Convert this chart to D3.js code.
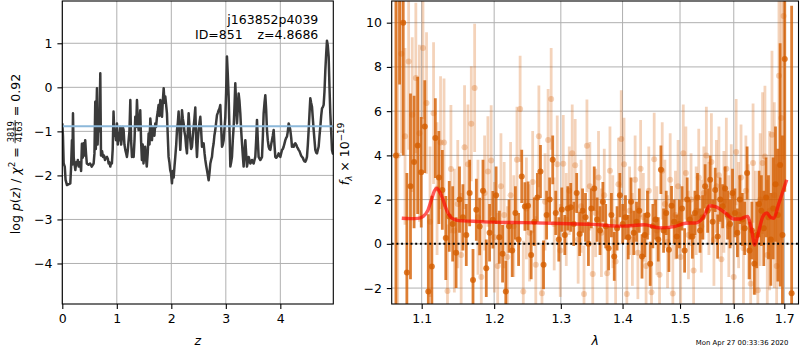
<!DOCTYPE html>
<html>
<head>
<meta charset="utf-8">
<script src="https://cdn.jsdelivr.net/npm/d3@7"></script>
<style>
  body { margin: 0; background: #fff; }
  svg { display: block; }
  svg text { font-family: "DejaVu Sans", sans-serif; fill: #000; }
</style>
</head>
<body>
<svg id="fig" width="800" height="350"></svg>
<script>
// ---------- redshift probability curve: log p(z) / chi2 ----------
const zGrid = [
  0.000,0.012,0.025,0.045,0.060,0.086,0.120,0.147,0.160,0.177,
  0.185,0.196,0.210,0.239,0.255,0.269,0.285,0.300,0.315,0.330,
  0.345,0.360,0.375,0.390,0.405,0.420,0.435,0.450,0.480,0.510,
  0.540,0.575,0.590,0.605,0.615,0.625,0.636,0.648,0.667,0.680,
  0.697,0.710,0.730,0.746,0.765,0.783,0.800,0.820,0.835,0.850,
  0.865,0.880,0.895,0.910,0.925,0.940,0.955,0.970,0.985,1.003,
  1.018,1.034,1.050,1.064,1.080,1.095,1.110,1.125,1.140,1.156,
  1.172,1.186,1.200,1.217,1.232,1.248,1.262,1.278,1.294,1.309,
  1.325,1.339,1.355,1.370,1.385,1.400,1.415,1.430,1.445,1.460,
  1.475,1.490,1.505,1.520,1.535,1.550,1.567,1.584,1.600,1.615,
  1.630,1.645,1.660,1.676,1.690,1.706,1.720,1.737,1.752,1.767,
  1.782,1.798,1.814,1.829,1.845,1.860,1.875,1.890,1.905,1.920,
  1.935,1.950,1.965,1.980,1.995,2.012,2.027,2.043,2.058,2.073,
  2.090,2.104,2.120,2.134,2.150,2.165,2.180,2.196,2.210,2.226,
  2.240,2.257,2.272,2.287,2.300,2.318,2.333,2.348,2.363,2.379,
  2.395,2.410,2.425,2.440,2.456,2.471,2.486,2.501,2.517,2.532,
  2.548,2.563,2.578,2.593,2.610,2.624,2.640,2.654,2.670,2.685,
  2.700,2.716,2.730,2.746,2.760,2.777,2.790,2.807,2.822,2.838,
  2.853,2.869,2.884,2.899,2.915,2.930,2.945,2.960,2.975,2.991,
  3.006,3.021,3.036,3.052,3.068,3.083,3.098,3.113,3.128,3.144,
  3.160,3.174,3.190,3.205,3.220,3.235,3.250,3.266,3.280,3.297,
  3.312,3.327,3.342,3.358,3.373,3.388,3.403,3.419,3.434,3.450,
  3.465,3.480,3.495,3.511,3.526,3.541,3.557,3.572,3.587,3.602,
  3.618,3.633,3.648,3.664,3.680,3.694,3.710,3.725,3.740,3.755,
  3.770,3.786,3.800,3.817,3.832,3.847,3.862,3.878,3.893,3.908,
  3.924,3.939,3.954,3.969,3.985,4.000,4.015,4.031,4.046,4.061,
  4.076,4.092,4.107,4.122,4.138,4.153,4.168,4.183,4.200,4.214,
  4.230,4.245,4.260,4.275,4.290,4.306,4.320,4.336,4.352,4.367,
  4.382,4.398,4.413,4.428,4.443,4.459,4.474,4.489,4.505,4.520,
  4.535,4.550,4.565,4.581,4.596,4.612,4.627,4.642,4.657,4.673,
  4.688,4.703,4.719,4.734,4.750,4.765,4.780,4.795,4.810,4.826,
  4.841,4.856,4.871,4.887,4.902,4.917,4.933,4.948,4.963,4.978
];
const logPz = [
  -0.82,-1.10,-1.73,-1.80,-2.10,-2.22,-2.20,-2.18,-1.85,-1.20,
  -1.75,-0.59,-1.60,-1.88,-1.70,-1.75,-1.65,-1.80,-1.70,-1.73,
  -1.90,-1.28,-1.60,-1.27,-1.55,-1.20,-1.50,-1.73,-1.76,-1.73,
  -1.80,-1.73,-1.50,-0.33,-1.40,-0.60,-0.02,-1.30,-0.52,-1.00,
  0.32,-1.55,-1.45,-1.58,-1.55,-1.65,-1.60,-1.58,-1.62,-1.73,
  -1.70,-1.80,-1.72,-1.73,-1.40,-0.55,-1.10,-0.97,-1.20,-0.82,
  -1.30,-1.05,-1.20,-0.90,-1.30,-1.12,-0.90,-0.97,-1.30,-1.42,
  -1.50,-1.58,-1.45,-1.20,-1.00,-0.29,-1.20,-1.58,-1.45,-1.58,
  -1.20,-0.67,-0.90,-0.29,-0.75,-0.97,-0.85,-0.52,-1.20,-1.65,
  -1.30,-1.73,-1.50,-1.35,-1.60,-1.80,-1.50,-1.05,-1.30,-0.71,
  -0.95,-1.20,-0.90,-0.97,-1.10,-0.82,-0.90,-0.67,-0.55,-0.40,
  -0.65,-0.29,-0.50,-0.67,-0.30,-0.02,-0.35,-0.21,-0.40,-0.59,
  -1.10,-1.58,-1.70,-1.88,-1.95,-2.18,-1.90,-2.05,-1.80,-1.58,
  -1.30,-0.97,-0.80,-0.55,-1.00,-1.42,-1.00,-0.52,-0.70,-0.82,
  -1.00,-1.12,-1.35,-1.50,-1.10,-0.59,-0.90,-1.20,-1.40,-1.35,
  -1.10,-0.90,-0.70,-0.46,-1.20,-1.58,-1.20,-0.97,-0.80,-0.67,
  -1.00,-1.35,-1.30,-1.27,-1.50,-1.65,-1.78,-1.88,-2.00,-2.11,
  -1.95,-1.73,-1.65,-1.58,-1.40,-1.27,-1.10,-0.97,-0.80,-0.63,
  -0.58,-0.52,-0.48,-0.40,-0.90,-1.35,-1.30,-1.20,-0.95,-0.67,
  -0.10,0.70,0.30,-0.21,-1.00,-1.80,-1.70,-1.58,-1.20,-0.90,
  -0.40,0.09,-0.40,-0.82,-0.50,-0.14,-0.30,-0.59,-0.95,-1.27,
  -1.55,-1.80,-1.50,-1.20,-1.50,-1.80,-1.70,-1.58,-1.65,-1.73,
  -1.70,-1.65,-1.70,-1.73,-1.65,-1.58,-1.20,-0.74,-1.20,-1.58,
  -1.62,-1.65,-1.62,-1.58,-1.10,-0.59,-0.35,-0.18,-0.50,-0.97,
  -1.20,-1.35,-1.40,-1.42,-1.30,-1.20,-1.10,-0.97,-1.30,-1.58,
  -1.60,-1.58,-1.55,-1.50,-1.55,-1.58,-1.50,-1.42,-1.40,-1.35,
  -1.28,-1.20,-1.15,-1.12,-1.00,-0.82,-0.88,-0.97,-1.15,-1.35,
  -1.30,-1.35,-1.30,-1.27,-1.30,-1.35,-1.38,-1.42,-1.45,-1.50,
  -1.55,-1.58,-1.60,-1.65,-1.68,-1.69,-1.65,-1.58,-1.30,-0.97,
  -0.60,-0.25,-0.35,-0.44,-0.70,-0.97,-1.20,-1.42,-1.48,-1.50,
  -1.42,-1.35,-1.10,-0.90,-0.65,-0.48,-0.45,-0.40,-0.10,0.39,
  0.75,1.06,0.95,0.70,0.00,-0.59,-1.00,-1.42,-1.50,-1.52
];
const chi2Level = -0.886;
const zTicks = [0, 1, 2, 3, 4];
const pzTicks = [-4, -3, -2, -1, 0, 1];

// ---------- spectrum: first beam (dark) ----------
const darkWave = [
  1.0665,1.0712,1.0759,1.0806,1.0853,1.0900,1.0947,1.0994,1.1041,1.1088,
  1.1135,1.1182,1.1229,1.1276,1.1323,1.1370,1.1417,1.1464,1.1511,1.1558,
  1.1605,1.1652,1.1699,1.1746,1.1793,1.1840,1.1887,1.1934,1.1981,1.2028,
  1.2075,1.2122,1.2169,1.2216,1.2263,1.2310,1.2357,1.2404,1.2451,1.2498,
  1.2545,1.2592,1.2639,1.2686,1.2733,1.2780,1.2827,1.2874,1.2921,1.2968,
  1.3015,1.3062,1.3109,1.3156,1.3203,1.3250,1.3297,1.3344,1.3391,1.3438,
  1.3485,1.3532,1.3579,1.3626,1.3673,1.3720,1.3767,1.3814,1.3861,1.3908,
  1.3955,1.4002,1.4049,1.4096,1.4143,1.4190,1.4237,1.4284,1.4331,1.4378,
  1.4425,1.4472,1.4519,1.4566,1.4613,1.4660,1.4707,1.4754,1.4801,1.4848,
  1.4895,1.4942,1.4989,1.5036,1.5083,1.5130,1.5177,1.5224,1.5271,1.5318,
  1.5365,1.5412,1.5459,1.5506,1.5553,1.5600,1.5647,1.5694,1.5741,1.5788,
  1.5835,1.5882,1.5929,1.5976,1.6023,1.6070,1.6117,1.6164,1.6211,1.6258,
  1.6305,1.6352,1.6399,1.6446,1.6493,1.6540,1.6587,1.6634,1.6681,1.6728,
  1.6775,1.6822,1.6869,1.6916,1.6963,1.7010,1.7151
];
const darkFlux = [
  4.0,11.5,10.0,-1.3,2.6,3.7,4.45,3.24,5.3,-2.16,
  -1.03,4.78,3.0,2.44,0.26,1.24,0.9,-0.4,2.0,1.2,
  0.4,2.3,-1.63,1.54,0.78,2.4,-1.1,0.5,1.09,2.2,
  0.3,-0.45,-2.16,0.8,-0.3,1.4,0.2,3.05,1.69,1.72,
  -0.5,1.0,2.1,3.27,-0.95,1.3,2.0,3.8,1.4,0.2,
  1.55,0.4,1.6,1.65,0.9,2.3,0.45,1.5,1.2,0.0,
  1.6,2.5,1.1,0.6,1.9,0.8,-0.2,1.3,-0.57,0.7,
  2.2,0.9,1.2,0.3,1.9,0.5,1.0,1.5,-0.57,0.4,
  1.3,-0.9,0.8,1.1,0.2,3.35,0.6,1.4,-0.27,1.72,
  1.0,0.33,0.9,1.6,-0.3,2.0,1.1,0.33,1.4,2.1,
  0.6,1.2,2.6,1.5,2.9,1.0,2.44,0.33,2.0,1.7,
  2.5,1.3,0.9,2.3,1.4,0.5,2.0,1.1,0.7,3.2,
  -0.3,0.6,-0.9,0.4,1.8,1.5,0.7,2.1,1.2,0.2,
  1.6,2.7,1.3,3.57,0.4,8.36,-2.23
];
const darkErr = [
  8.0,4.3,6.0,4.5,4.2,3.0,3.1,2.5,2.1,3.5,
  3.2,1.8,2.1,1.8,1.9,1.6,1.7,1.6,1.5,1.5,
  1.4,1.5,1.4,1.4,1.3,1.4,1.3,1.3,1.3,1.3,
  1.2,1.3,1.4,1.2,1.2,1.2,1.2,1.2,1.1,1.1,
  1.1,1.1,1.1,1.2,1.1,1.1,1.0,1.1,1.0,1.0,
  1.0,0.9,1.0,1.1,1.0,0.9,1.0,1.0,1.1,1.0,
  0.9,1.0,1.0,1.1,0.9,1.0,1.0,1.0,1.1,1.0,
  1.0,0.9,1.0,1.0,1.1,1.0,0.9,1.0,1.0,1.0,
  1.1,1.0,1.0,0.9,1.0,1.1,1.0,1.0,1.0,0.9,
  1.0,1.0,1.1,1.0,1.0,1.0,0.9,1.0,1.0,1.1,
  1.0,1.0,1.0,1.0,1.1,1.0,1.0,1.0,1.0,1.0,
  1.0,1.1,1.1,1.1,1.1,1.1,1.1,1.2,1.2,1.2,
  1.3,1.3,1.4,1.5,1.5,1.6,1.7,1.8,1.9,2.1,
  2.3,2.6,3.0,5.5,4.5,6.0,13.0
];

// ---------- spectrum: second beam (light) ----------
const lightWave = [
  1.0688,1.0735,1.0782,1.0829,1.0876,1.0923,1.0970,1.1017,1.1064,1.1111,
  1.1158,1.1205,1.1252,1.1299,1.1346,1.1393,1.1440,1.1487,1.1534,1.1581,
  1.1628,1.1675,1.1722,1.1769,1.1816,1.1863,1.1910,1.1957,1.2004,1.2051,
  1.2098,1.2145,1.2192,1.2239,1.2286,1.2333,1.2380,1.2427,1.2474,1.2521,
  1.2568,1.2615,1.2662,1.2709,1.2756,1.2803,1.2850,1.2897,1.2944,1.2991,
  1.3038,1.3085,1.3132,1.3179,1.3226,1.3273,1.3320,1.3367,1.3414,1.3461,
  1.3508,1.3555,1.3602,1.3649,1.3696,1.3743,1.3790,1.3837,1.3884,1.3931,
  1.3978,1.4025,1.4072,1.4119,1.4166,1.4213,1.4260,1.4307,1.4354,1.4401,
  1.4448,1.4495,1.4542,1.4589,1.4636,1.4683,1.4730,1.4777,1.4824,1.4871,
  1.4918,1.4965,1.5012,1.5059,1.5106,1.5153,1.5200,1.5247,1.5294,1.5341,
  1.5388,1.5435,1.5482,1.5529,1.5576,1.5623,1.5670,1.5717,1.5764,1.5811,
  1.5858,1.5905,1.5952,1.5999,1.6046,1.6093,1.6140,1.6187,1.6234,1.6281,
  1.6328,1.6375,1.6422,1.6469,1.6516,1.6563,1.6610,1.6657,1.6704,1.6751,
  1.6798,1.6845,1.6892,1.6939,1.6986
];
const lightFlux = [
  4.0,8.6,4.86,8.25,5.84,7.5,5.0,8.85,6.37,1.0,
  5.91,2.5,4.58,4.58,-2.13,3.38,0.6,1.8,-0.5,4.37,
  3.6,5.43,7.05,1.2,-1.5,2.3,3.27,3.77,0.3,-1.0,
  2.6,1.3,-0.6,2.2,0.8,3.8,6.1,-2.16,1.6,0.5,
  2.8,-0.95,4.86,-2.23,1.9,4.7,6.55,0.9,3.6,-0.3,
  3.62,1.1,2.4,4.1,3.55,0.2,1.7,-2.27,4.43,2.6,
  -1.36,1.4,3.0,0.5,2.2,-1.33,3.3,1.0,-0.8,2.7,
  4.74,3.6,-2.27,1.5,0.2,2.9,-0.4,3.4,1.2,-1.0,
  2.4,-2.19,3.83,0.6,-1.4,3.3,1.8,0.1,2.9,-2.25,
  1.3,2.6,-0.6,4.1,3.2,0.4,2.0,-1.2,1.5,3.0,
  0.8,2.3,4.0,1.6,3.7,0.2,2.6,3.1,-0.7,1.9,
  3.4,0.8,2.2,-1.5,4.15,1.3,3.0,-0.2,2.4,1.0,
  -1.8,3.65,0.5,-2.1,2.0,3.65,3.95,-0.5,1.5,4.93,
  2.2,-1.0,7.6,5.69,10.3
];
const lightErr = [
  7.0,4.5,4.0,4.0,3.5,3.4,4.0,3.2,3.2,3.4,
  3.2,3.0,3.0,2.9,3.0,2.9,2.8,2.9,2.8,2.8,
  2.7,2.6,2.9,2.6,2.6,2.6,2.5,2.5,2.5,2.4,
  2.4,2.4,2.3,2.4,2.3,2.4,2.4,2.3,2.3,2.2,
  2.3,2.2,2.3,2.2,2.2,2.3,2.3,2.1,2.2,2.1,
  2.2,2.1,2.0,2.2,2.1,2.0,2.1,2.2,2.1,2.0,
  2.1,2.0,2.1,2.0,2.1,2.2,2.0,2.1,2.0,2.1,
  2.2,2.1,2.2,2.0,2.1,2.0,2.1,2.2,2.0,2.1,
  2.0,2.2,2.1,2.0,2.1,2.2,2.0,2.1,2.1,2.2,
  2.0,2.1,2.1,2.2,2.1,2.0,2.1,2.1,2.0,2.2,
  2.1,2.1,2.2,2.1,2.2,2.1,2.1,2.2,2.2,2.3,
  2.3,2.3,2.3,2.3,2.4,2.4,2.4,2.5,2.5,2.6,
  2.6,2.7,2.8,2.9,3.0,3.2,3.2,3.4,3.6,3.8,
  4.2,4.6,5.0,5.5,6.5
];

// ---------- best-fit model ----------
const modelWave = [
  1.074,1.085,1.095,1.102,1.108,1.113,1.117,1.120,1.124,1.128,
  1.132,1.136,1.141,1.150,1.171,1.200,1.245,1.300,1.350,1.400,
  1.437,1.464,1.490,1.510,1.530,1.545,1.554,1.565,1.575,1.586,
  1.600,1.612,1.620,1.627,1.634,1.641,1.648,1.657,1.665,1.672,
  1.678,1.690,1.705
];
const modelFlux = [
  1.16,1.14,1.15,1.24,1.50,2.00,2.40,2.52,2.35,2.05,
  1.65,1.35,1.15,1.05,1.02,0.98,0.96,0.92,0.88,0.80,
  0.86,0.72,0.78,0.93,0.95,1.30,1.72,1.68,1.55,1.35,
  1.12,1.12,1.20,1.24,0.70,-0.05,0.50,1.24,1.40,1.20,
  1.16,1.90,2.90
];
const waveTicks = [1.1, 1.2, 1.3, 1.4, 1.5, 1.6, 1.7];
const fluxTicks = [-2, 0, 2, 4, 6, 8, 10];

// ---------- layout ----------
const FS = 12.5;
const ORANGE = "#d55e00";
const GRID = "#b0b0b0";
const svg = d3.select("#fig");

const L = { x0: 62.3, x1: 333.3, y0: 1, y1: 304 };
const R = { x0: 391.7, x1: 798.5, y0: 1, y1: 304 };

const xL = d3.scaleLinear().domain([0, 4.972]).range([L.x0, L.x1]);
const yL = d3.scaleLinear().domain([-4.92, 1.96]).range([L.y1, L.y0]);
const xR = d3.scaleLog().domain([1.0611, 1.7293]).range([R.x0, R.x1]);
const yR = d3.scaleLinear().domain([-2.72, 10.98]).range([R.y1, R.y0]);

const defs = svg.append("defs");
[["clipL", L], ["clipR", R]].forEach(([id, b]) => {
  defs.append("clipPath").attr("id", id).append("rect")
    .attr("x", b.x0).attr("y", b.y0).attr("width", b.x1 - b.x0).attr("height", b.y1 - b.y0);
});

function drawGrid(xs, ys, xt, yt, b) {
  const g = svg.append("g").attr("stroke", GRID).attr("stroke-width", 1);
  g.selectAll(null).data(xt).join("line")
    .attr("x1", d => xs(d)).attr("x2", d => xs(d)).attr("y1", b.y0).attr("y2", b.y1);
  g.selectAll(null).data(yt).join("line")
    .attr("y1", d => ys(d)).attr("y2", d => ys(d)).attr("x1", b.x0).attr("x2", b.x1);
}
drawGrid(xL, yL, zTicks, pzTicks, L);
drawGrid(xR, yR, waveTicks, fluxTicks, R);

// ---------- left panel ----------
const pL = svg.append("g").attr("clip-path", "url(#clipL)");
pL.append("path")
  .datum(d3.range(zGrid.length))
  .attr("fill", "none").attr("stroke", "#3a3a3a").attr("stroke-width", 2.5)
  .attr("stroke-linejoin", "round")
  .attr("d", d3.line().x(i => xL(zGrid[i])).y(i => yL(logPz[i])));
pL.append("line")
  .attr("x1", L.x0).attr("x2", L.x1)
  .attr("y1", yL(chi2Level)).attr("y2", yL(chi2Level))
  .attr("stroke", "#8cb8da").attr("stroke-width", 2);

// ---------- right panel ----------
const pR = svg.append("g").attr("clip-path", "url(#clipR)");
function errorbars(wave, flux, err, alpha) {
  const g = pR.append("g");
  const idx = d3.range(wave.length);
  g.selectAll(null).data(idx).join("line")
    .attr("x1", i => xR(wave[i])).attr("x2", i => xR(wave[i]))
    .attr("y1", i => yR(flux[i] - err[i])).attr("y2", i => yR(flux[i] + err[i]))
    .attr("stroke", ORANGE).attr("stroke-width", 2.8).attr("stroke-opacity", alpha);
  g.selectAll(null).data(idx).join("circle")
    .attr("cx", i => xR(wave[i])).attr("cy", i => yR(flux[i])).attr("r", 3)
    .attr("fill", ORANGE).attr("fill-opacity", alpha);
}
errorbars(lightWave, lightFlux, lightErr, 0.27);
errorbars(darkWave, darkFlux, darkErr, 0.8);

pR.append("line")
  .attr("x1", R.x0).attr("x2", R.x1).attr("y1", yR(0)).attr("y2", yR(0))
  .attr("stroke", "#000").attr("stroke-width", 2).attr("stroke-dasharray", "2,2.7");

pR.append("path")
  .datum(d3.range(modelWave.length))
  .attr("fill", "none").attr("stroke", "#ff0000").attr("stroke-opacity", 0.65)
  .attr("stroke-width", 3.4).attr("stroke-linejoin", "round")
  .attr("d", d3.line().curve(d3.curveMonotoneX)
    .x(i => xR(modelWave[i])).y(i => yR(modelFlux[i])));

// ---------- axes ----------
function styleAxis(g) {
  g.attr("font-family", null).attr("font-size", null);
  g.select(".domain").remove();
  g.selectAll(".tick line").attr("stroke", "#000").attr("stroke-width", 1.1);
  g.selectAll(".tick text").style("font-size", FS + "px");
}
svg.append("g").attr("transform", `translate(0,${L.y1})`)
  .call(d3.axisBottom(xL).tickValues(zTicks).tickFormat(d3.format("d"))
    .tickSize(4.9).tickPadding(4.9)).call(styleAxis);
svg.append("g").attr("transform", `translate(${L.x0},0)`)
  .call(d3.axisLeft(yL).tickValues(pzTicks).tickFormat(d3.format("d"))
    .tickSize(4.9).tickPadding(4.9)).call(styleAxis);
svg.append("g").attr("transform", `translate(0,${R.y1})`)
  .call(d3.axisBottom(xR).tickValues(waveTicks).tickFormat(d3.format(".1f"))
    .tickSize(4.9).tickPadding(4.9)).call(styleAxis);
svg.append("g").attr("transform", `translate(${R.x0},0)`)
  .call(d3.axisLeft(yR).tickValues(fluxTicks).tickFormat(d3.format("d"))
    .tickSize(4.9).tickPadding(4.9)).call(styleAxis);

// frames
[L, R].forEach(b => {
  svg.append("rect").attr("x", b.x0).attr("y", b.y0)
    .attr("width", b.x1 - b.x0).attr("height", b.y1 - b.y0)
    .attr("fill", "none").attr("stroke", "#000").attr("stroke-width", 1.1);
});

// ---------- text ----------
svg.append("text").attr("x", 318.3).attr("y", 24).attr("text-anchor", "end")
  .style("font-size", FS + "px").text("j163852p4039");
svg.append("text").attr("x", 195).attr("y", 38.5)
  .style("font-size", FS + "px").text("ID=851");
svg.append("text").attr("x", 318.3).attr("y", 38.5).attr("text-anchor", "end")
  .style("font-size", FS + "px").text("z=4.8686");

svg.append("text").attr("x", (L.x0 + L.x1) / 2).attr("y", 345).attr("text-anchor", "middle")
  .style("font-size", FS + "px").style("font-style", "italic").text("z");
svg.append("text").attr("x", (R.x0 + R.x1) / 2).attr("y", 345).attr("text-anchor", "middle")
  .style("font-size", FS + "px").style("font-style", "italic").text("λ");

svg.append("text").attr("x", 788.3).attr("y", 344.5).attr("text-anchor", "end")
  .style("font-size", "6.9px").text("Mon Apr 27 00:33:36 2020");

// rotated math-style labels built piece by piece
function mathLabel(cx0, cy0, pieces) {
  const g = svg.append("g").attr("transform", `translate(${cx0},${cy0}) rotate(-90)`);
  const inner = g.append("g");
  let cx = 0;
  pieces.forEach(p => {
    if (p.frac) {
      const n = inner.append("text").attr("y", p.numY).style("font-size", p.size + "px").text(p.frac[0]);
      const d = inner.append("text").attr("y", p.denY).style("font-size", p.size + "px").text(p.frac[1]);
      const w = Math.max(n.node().getComputedTextLength(), d.node().getComputedTextLength()) + 2;
      n.attr("x", cx + w / 2).attr("text-anchor", "middle");
      d.attr("x", cx + w / 2).attr("text-anchor", "middle");
      inner.append("line").attr("x1", cx).attr("x2", cx + w)
        .attr("y1", p.barY).attr("y2", p.barY).attr("stroke", "#000").attr("stroke-width", 0.8);
      cx += w;
    } else {
      const t = inner.append("text").attr("x", cx).attr("y", p.dy || 0)
        .style("font-size", (p.size || FS) + "px")
        .style("font-style", p.it ? "italic" : "normal")
        .style("white-space", "pre").text(p.t);
      cx += t.node().getComputedTextLength();
    }
  });
  inner.attr("transform", `translate(${-cx / 2},0)`);
}
mathLabel(19.5, 154, [
  { t: "log " }, { t: "p", it: 1 }, { t: "(" }, { t: "z", it: 1 }, { t: ") / " },
  { t: "χ", it: 1 }, { t: "2", size: 8.8, dy: -5 }, { t: " = " },
  { frac: ["3819", "4163"], size: 8.3, numY: -5.8, denY: 2.6, barY: -4.4 },
  { t: " = 0.92" }
]);
mathLabel(348.5, 154, [
  { t: "f", it: 1 }, { t: "λ", it: 1, size: 8.8, dy: 3 }, { t: " × 10" }, { t: "−19", size: 8.8, dy: -5 }
]);
</script>
</body>
</html>
